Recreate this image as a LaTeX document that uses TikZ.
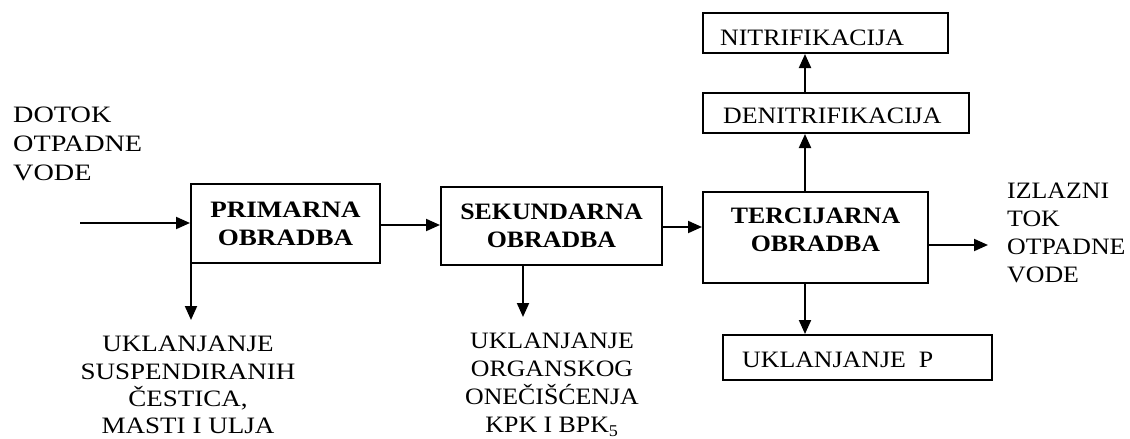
\documentclass[tikz,border=0pt]{standalone}
\usepackage{fontspec}
\setmainfont{Liberation Serif}[FakeStretch=1.10]
\newfontfamily\wideserif{Liberation Serif}[FakeStretch=1.15]
\newfontfamily\widerserif{Liberation Serif}[FakeStretch=1.2]
\usetikzlibrary{arrows.meta}
\tikzset{
  box/.style={draw, line width=2pt, inner sep=0pt},
  txt/.style={font=\fontsize{23.5}{28}\selectfont, inner sep=0pt},
  btxt/.style={font=\fontsize{23.5}{28}\selectfont\bfseries, inner sep=0pt, align=center},
  arr/.style={line width=2pt, -{Triangle[length=14pt,width=12pt]}},
}
\begin{document}
\begin{tikzpicture}[x=1pt,y=-1pt]
\useasboundingbox[fill=white] (0,0) rectangle (1130,439);
% main boxes
\node[box, btxt, font=\fontsize{23.5}{28}\selectfont\bfseries\wideserif, minimum width=189pt, minimum height=79pt] (prim) at (285.5,223.5) {PRIMARNA\\OBRADBA};
\node[box, btxt, minimum width=221pt, minimum height=78pt] (sek) at (551.5,226) {SEKUNDARNA\\OBRADBA};
\node[box, minimum width=225pt, minimum height=91pt] (terc) at (815.5,237.5) {};
\node[btxt] (tercT) at ([yshift=7.5pt]terc.center) {TERCIJARNA\\OBRADBA};
% side boxes
\node[box, minimum width=245pt, minimum height=40pt] (nitri) at (825.5,33) {};
\node[txt, anchor=base west] (nitriT) at (720,45) {NITRIFIKACIJA};
\node[box, minimum width=266pt, minimum height=40pt] (deni) at (836,113) {};
\node[txt, anchor=base west] (deniT) at (723,123) {DENITRIFIKACIJA};
\node[box, minimum width=269pt, minimum height=45pt] (ukp) at (857.5,357.5) {};
\node[txt, anchor=base west] (ukpT) at (742,367) {UKLANJANJE~~P};
% free texts
\node[txt, font=\fontsize{23.5}{29}\selectfont\widerserif, anchor=north west, align=left] (dotok) at (13,106.6) {DOTOK\\OTPADNE\\VODE};
\node[txt, anchor=north west, align=left] (izlaz) at (1007,182.6) {IZLAZNI\\TOK\\OTPADNE\\VODE};
\node[txt, font=\fontsize{23.5}{27.4}\selectfont\wideserif, anchor=north, align=center] (uk1) at (188,336) {UKLANJANJE\\SUSPENDIRANIH\\ČESTICA,\\MASTI I ULJA};
\node[txt, anchor=north, align=center] (uk2) at (552,332.6) {UKLANJANJE\\ORGANSKOG\\ONEČIŠĆENJA\\KPK I BPK\textsubscript{5}};
% coordinates
\coordinate (in) at (80,223);
\coordinate (out) at (988,245);
\coordinate (d1) at (191,320);
\coordinate (d2) at (523,317);
\coordinate (vx) at ([xshift=-10.5pt]terc.north);
% connectors
\draw[arr] (in) -- (in -| prim.west);
\draw[arr] (prim.east |- 0,225) -- (sek.west |- 0,225);
\draw[arr] (sek.east |- 0,227) -- (terc.west |- 0,227);
\draw[arr] (out -| terc.east) -- (out);
\draw[arr] (d1 |- prim.south) -- (d1);
\draw[arr] (d2 |- sek.south) -- (d2);
\draw[arr] (vx) -- (vx |- deni.south);
\draw[arr] (vx |- deni.north) -- (vx |- nitri.south);
\draw[arr] (vx |- terc.south) -- (vx |- ukp.north);
\end{tikzpicture}
\end{document}
